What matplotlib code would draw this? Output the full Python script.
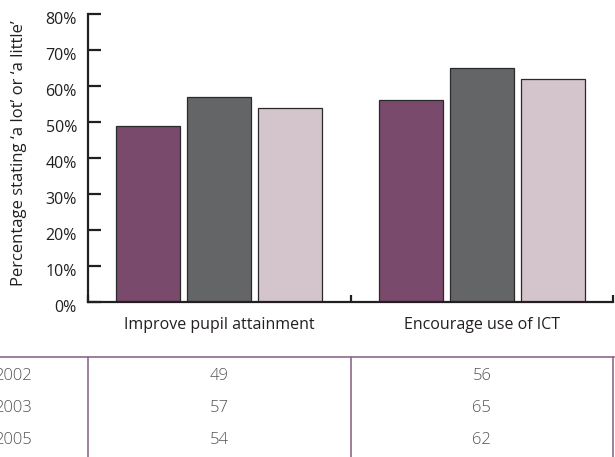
import matplotlib
matplotlib.use("Agg")
import matplotlib.pyplot as plt
import matplotlib.transforms as mtransforms
from matplotlib.lines import Line2D

categories = ["Improve pupil attainment", "Encourage use of ICT"]
years = ["2002", "2003", "2005"]
values_2002 = [49, 56]
values_2003 = [57, 65]
values_2005 = [54, 62]
series = [values_2002, values_2003, values_2005]
colors = ["#7a4a6c", "#646567", "#d4c4cb"]
yticks = [0, 10, 20, 30, 40, 50, 60, 70, 80]
ytick_labels = ["0%", "10%", "20%", "30%", "40%", "50%", "60%", "70%", "80%"]
ylabel = "Percentage stating \u2018a lot\u2019 or \u2018a little\u2019"

plt.rcParams["font.family"] = ["Open Sans", "DejaVu Sans"]

W, H = 615, 457
fig = plt.figure(figsize=(W / 100, H / 100), dpi=100)
ax = fig.add_axes([88 / W, 1 - 302 / H, (613 - 88) / W, (302 - 14) / H])

bar_w = 0.244
step = 0.271
for i, vals in enumerate(series):
    xs = [c + (i - 1) * step for c in range(len(categories))]
    ax.bar(xs, vals, width=bar_w, color=colors[i], edgecolor="#2a2a2a",
           linewidth=0.9, zorder=2)

ax.set_xlim(-0.5, len(categories) - 0.5)
ax.set_ylim(0, 80)
ax.set_yticks(yticks)
ax.set_yticklabels(ytick_labels, fontsize=11.5, color="#231f20")
ax.tick_params(axis="y", direction="in", length=9, width=1.6, color="#231f20", pad=8)
ax.set_xticks([-0.5, 0.5, 1.5])
ax.set_xticklabels([])
ax.tick_params(axis="x", direction="in", length=5, width=1.6, color="#231f20")
for s in ["top", "right"]:
    ax.spines[s].set_visible(False)
for s in ["left", "bottom"]:
    ax.spines[s].set_linewidth(1.6)
    ax.spines[s].set_color("#231f20")

offset = mtransforms.ScaledTranslation(0, -4 / 100, fig.dpi_scale_trans)
for lab in ax.get_yticklabels():
    lab.set_transform(lab.get_transform() + offset)

# category labels
blend = mtransforms.blended_transform_factory(ax.transData, fig.transFigure)
for c, name in enumerate(categories):
    fig.text(c, 1 - 325 / H, name, transform=blend, ha="center", va="center",
             fontsize=11.5, color="#231f20")

fig.text(19 / W, 1 - 153 / H, ylabel, rotation=90, ha="center", va="center",
         fontsize=12, color="#231f20")

# data table
line_c = "#8f6a8a"
fig.add_artist(Line2D([0, 614 / W], [1 - 357 / H, 1 - 357 / H], transform=fig.transFigure,
                      color=line_c, linewidth=1.2))
for xb in [-0.5, 0.5, 1.5]:
    fig.add_artist(Line2D([xb, xb], [1 - 357 / H, 0], transform=blend,
                          color=line_c, linewidth=1.2, clip_on=False))
row_y = [376, 408, 440]
for r, (yr, vals) in enumerate(zip(years, series)):
    fig.text(32 / W, 1 - row_y[r] / H, yr, ha="right", va="center",
             fontsize=12, color="#555555", fontweight="light")
    for c, v in enumerate(vals):
        fig.text(c, 1 - row_y[r] / H, str(v), transform=blend, ha="center",
                 va="center", fontsize=12, color="#555555", fontweight="light")

fig.savefig("out.png", dpi=100)
